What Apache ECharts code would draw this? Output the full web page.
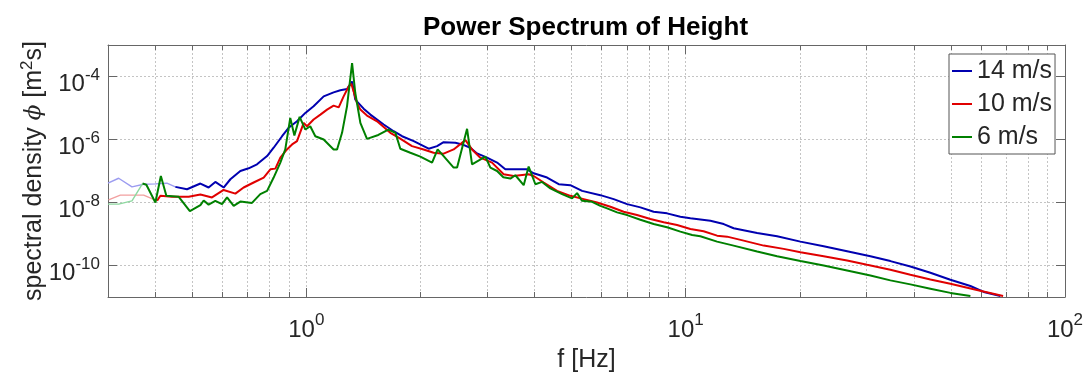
<!DOCTYPE html>
<html><head><meta charset="utf-8">
<script src="https://cdn.jsdelivr.net/npm/echarts@6/dist/echarts.min.js"></script>
<style>html,body{margin:0;padding:0;background:#fff}#c{width:1083px;height:374px}</style>
</head><body><div id="c"></div>
<script>
// ---- data (frequency in Hz, spectral density in m^2 s) ----
const seriesNames = ['14 m/s', '10 m/s', '6 m/s'];

const blueF = [0.300,0.320,0.347,0.3725,0.400,0.429,0.4515,0.4847,0.5257,0.5525,0.5755,0.6053,0.6306,0.6699,0.7046,0.7413,0.788,0.820,0.863,0.898,0.945,0.994,1.045,1.111,1.180,1.229,1.280,1.320,1.346,1.416,1.475,1.599,1.699,1.788,1.919,2.101,2.211,2.301,2.471,2.574,2.706,2.818,2.995,3.183,3.346,3.593,3.818,3.975,4.312,4.627,4.966,5.333,5.958,6.459,7.008,7.596,8.233,8.931,9.683,10.29,11.62,12.60,13.38,15.43,17.42,20.07,23.11,26.64,30.69,34.65,39.12,44.17,49.87,56.31,61.06,67.56];
const blueV = [4.09e-8,5.89e-8,3.13e-8,3.80e-8,3.89e-8,4.09e-8,3.13e-8,2.64e-8,4.00e-8,2.99e-8,4.50e-8,2.99e-8,5.47e-8,1.00e-7,1.22e-7,1.63e-7,2.98e-7,5.48e-7,1.27e-6,2.35e-6,3.79e-6,6.98e-6,1.13e-5,2.34e-5,3.13e-5,3.66e-5,4.00e-5,6.95e-5,1.84e-5,9.55e-6,6.18e-6,2.99e-6,1.83e-6,1.27e-6,8.87e-7,5.10e-7,6.17e-7,8.24e-7,7.89e-7,6.97e-7,5.48e-7,3.62e-7,2.65e-7,1.85e-7,1.13e-7,1.13e-7,1.13e-7,8.47e-8,6.19e-8,3.80e-8,3.54e-8,2.34e-8,1.71e-8,1.28e-8,8.89e-9,7.00e-9,5.08e-9,4.52e-9,3.53e-9,3.14e-9,2.64e-9,2.07e-9,1.52e-9,1.08e-9,8.49e-10,5.73e-10,4.10e-10,2.85e-10,1.98e-10,1.38e-10,9.31e-11,5.89e-11,3.54e-11,2.24e-11,1.45e-11,1.07e-11];

const redF = [0.301,0.3233,0.3725,0.4042,0.4123,0.4424,0.4895,0.5257,0.5640,0.6053,0.6500,0.6834,0.7262,0.7719,0.8038,0.8286,0.854,0.889,0.917,0.945,0.984,1.004,1.045,1.089,1.134,1.180,1.217,1.254,1.293,1.314,1.360,1.388,1.445,1.536,1.665,1.751,1.899,2.038,2.165,2.301,2.445,2.626,2.734,2.875,3.087,3.312,3.520,3.855,3.975,4.224,4.581,4.966,5.385,5.840,6.333,6.863,7.444,8.070,8.750,9.491,10.29,11.15,12.10,12.86,14.22,16.06,18.13,20.07,23.11,26.64,30.08,34.65,39.12,44.17,49.87,57.44,68.68];
const redV = [1.22e-8,1.71e-8,1.71e-8,1.13e-8,1.63e-8,1.51e-8,1.53e-8,1.80e-8,1.45e-8,2.50e-8,1.91e-8,2.99e-8,4.31e-8,6.19e-8,1.13e-7,1.19e-7,2.65e-7,4.84e-7,6.97e-7,8.87e-7,3.38e-6,2.64e-6,4.30e-6,6.18e-6,8.89e-6,1.19e-5,1.05e-5,2.34e-5,4.83e-5,5.88e-5,1.45e-5,8.89e-6,5.74e-6,3.79e-6,1.63e-6,1.14e-6,6.17e-7,4.84e-7,3.81e-7,3.55e-7,4.84e-7,9.53e-7,4.84e-7,2.65e-7,1.85e-7,7.87e-8,6.95e-8,7.87e-8,6.95e-8,4.31e-8,2.34e-8,1.63e-8,1.28e-8,1.00e-8,7.31e-9,5.08e-9,3.99e-9,2.98e-9,2.35e-9,1.93e-9,1.44e-9,1.22e-9,8.87e-10,8.24e-10,6.17e-10,4.28e-10,3.37e-10,2.65e-10,1.98e-10,1.44e-10,1.05e-10,7.33e-11,5.09e-11,3.61e-11,2.65e-11,1.75e-11,1.08e-11];

const greenF = [0.300,0.320,0.347,0.370,0.3786,0.400,0.4135,0.4275,0.4609,0.4931,0.5257,0.5363,0.5525,0.5755,0.5994,0.6180,0.6433,0.6699,0.7190,0.7561,0.788,0.820,0.854,0.880,0.907,0.930,0.960,0.994,1.024,1.056,1.111,1.180,1.205,1.242,1.280,1.320,1.346,1.388,1.445,1.548,1.645,1.717,1.769,1.880,1.998,2.145,2.219,2.301,2.445,2.497,2.653,2.734,2.964,3.056,3.183,3.306,3.450,3.556,3.741,3.855,4.016,4.182,4.398,4.722,5.018,5.173,5.333,5.666,5.958,6.206,6.595,7.008,7.596,8.233,8.931,9.683,10.40,10.93,12.10,13.38,15.43,17.42,20.07,23.11,26.64,30.69,34.65,39.12,44.17,49.87,56.31];
const greenV = [8.89e-9,8.89e-9,1.13e-8,4.00e-8,3.67e-8,1.00e-8,6.95e-8,1.63e-8,1.51e-8,5.35e-9,8.26e-9,1.16e-8,8.57e-9,1.13e-8,8.89e-9,1.45e-8,7.85e-9,1.07e-8,9.71e-9,1.84e-8,2.34e-8,6.19e-8,1.85e-7,4.84e-7,4.85e-6,1.34e-6,5.22e-6,2.07e-6,2.64e-6,1.27e-6,1.00e-6,4.84e-7,4.84e-7,1.63e-6,1.13e-5,2.65e-4,2.99e-5,3.38e-6,1.05e-6,1.39e-6,2.07e-6,1.63e-6,5.10e-7,3.81e-7,2.85e-7,1.85e-7,4.84e-7,2.98e-7,1.28e-7,1.28e-7,2.18e-6,1.63e-7,2.85e-7,1.28e-7,1.00e-7,6.32e-8,5.75e-8,7.33e-8,3.54e-8,1.38e-7,3.80e-8,4.50e-8,2.79e-8,1.84e-8,1.35e-8,1.98e-8,1.13e-8,1.05e-8,7.85e-9,6.50e-9,4.86e-9,3.99e-9,2.84e-9,2.07e-9,1.63e-9,1.19e-9,9.33e-10,8.49e-10,5.73e-10,4.28e-10,2.77e-10,1.98e-10,1.38e-10,1.00e-10,6.97e-11,4.84e-11,3.37e-11,2.52e-11,1.84e-11,1.35e-11,1.07e-11];

const xLabelTicks = [1, 10, 100];
const xMinorTicks = [0.4,0.5,0.6,0.7,0.8,0.9,1,2,3,4,5,6,7,8,9,10,20,30,40,50,60,70,80,90];
const yTicks = [1e-10, 1e-8, 1e-6, 1e-4];

// ---- styling ----
const colors = ['#0000b0', '#e00000', '#008000'];
const lightColors = ['#9c9cf0', '#f2a0a0', '#8ed8a0'];
const lightUntil = [0.44, 0.40, 0.37];   // frequency below which the trace is drawn faded
const FONT = 'Liberation Sans';
const AX = '#666666';
const GRID = '#c4c4c4';

function pairs(f, v) { return f.map((x, i) => [x, v[i]]); }
const dataSets = [pairs(blueF, blueV), pairs(redF, redV), pairs(greenF, greenV)];

function powLabel(v) {
  const e = Math.round(Math.log10(v));
  return '{b|10}{s|' + e + '}';
}
const richPow = {
  b: { fontSize: 24, lineHeight: 30, verticalAlign: 'bottom', fontFamily: FONT, color: '#262626' },
  s: { fontSize: 17, lineHeight: 17, verticalAlign: 'top', fontFamily: FONT, color: '#262626' }
};

const xBase = { type: 'log', logBase: 10, min: 0.3, max: 100, gridIndex: 0 };
const yBase = { type: 'log', logBase: 10, min: 1e-11, max: 1e-3, gridIndex: 0 };

const lineSeries = [];
[0, 1, 2].forEach(i => {
  const d = dataSets[i];
  let k = d.findIndex(p => p[0] >= lightUntil[i]);
  if (k < 1) k = 1;
  lineSeries.push({
    name: seriesNames[i] + ' faded', type: 'line', data: d.slice(0, k + 1),
    showSymbol: false, symbol: 'none', silent: true,
    lineStyle: { width: 1.4, color: lightColors[i] }, z: 3 + i
  });
  lineSeries.push({
    name: seriesNames[i], type: 'line', data: d.slice(k),
    showSymbol: false, symbol: 'none',
    lineStyle: { width: 2, color: colors[i] }, itemStyle: { color: colors[i] }, z: 3 + i
  });
});

const option = {
  backgroundColor: '#ffffff',
  animation: false,
  title: {
    text: 'Power Spectrum of Height',
    left: 423, top: 13, padding: 0,
    textStyle: { fontFamily: FONT, fontSize: 26, fontWeight: 'bold', color: '#000', lineHeight: 30 }
  },
  grid: { left: 108, top: 45, right: 18, bottom: 77, show: false, outerBoundsMode: 'none', containLabel: false },
  legend: {
    data: seriesNames,
    orient: 'vertical',
    left: 949, top: 54,
    padding: [4, 3, 4, 3],
    itemGap: 7, itemWidth: 20, itemHeight: 2,
    icon: 'rect',
    backgroundColor: '#fff', borderColor: '#555', borderWidth: 1, borderRadius: 0,
    textStyle: { fontFamily: FONT, fontSize: 25, color: '#262626', lineHeight: 26 }
  },
  xAxis: [
    Object.assign({}, xBase, {
      position: 'bottom',
      name: 'f [Hz]', nameLocation: 'middle', nameGap: 48, nameMoveOverlap: false,
      nameTextStyle: { fontFamily: FONT, fontSize: 25, color: '#262626', lineHeight: 30 },
      axisLine: { show: true, lineStyle: { color: AX, width: 1 } },
      axisTick: { show: true, inside: true, length: 9, customValues: xLabelTicks, lineStyle: { color: AX } },
      axisLabel: { show: true, customValues: xLabelTicks, margin: 15, formatter: powLabel, rich: richPow },
      splitLine: { show: false }
    }),
    Object.assign({}, xBase, {
      position: 'bottom',
      axisLine: { show: false },
      axisTick: { show: true, inside: true, length: 5, customValues: xMinorTicks, lineStyle: { color: AX } },
      axisLabel: { show: false },
      splitLine: { show: true, lineStyle: { color: GRID, type: [2, 2], width: 1 } }
    }),
    Object.assign({}, xBase, {
      position: 'top',
      axisLine: { show: true, lineStyle: { color: AX, width: 1 } },
      axisTick: { show: true, inside: true, length: 9, customValues: xLabelTicks, lineStyle: { color: AX } },
      axisLabel: { show: false },
      splitLine: { show: false }
    }),
    Object.assign({}, xBase, {
      position: 'top',
      axisLine: { show: false },
      axisTick: { show: true, inside: true, length: 5, customValues: xMinorTicks, lineStyle: { color: AX } },
      axisLabel: { show: false },
      splitLine: { show: false }
    })
  ],
  yAxis: [
    Object.assign({}, yBase, {
      position: 'left',
      name: 'spectral density {phi|\u03D5} [m{sup|2}s]',
      nameLocation: 'middle', nameGap: 59, nameRotate: 90, nameMoveOverlap: false,
      nameTextStyle: {
        fontFamily: FONT, fontSize: 25, color: '#262626', lineHeight: 30,
        rich: {
          phi: { fontFamily: 'DejaVu Serif', fontStyle: 'italic', fontSize: 23, lineHeight: 30, color: '#262626' },
          sup: { fontFamily: FONT, fontSize: 17, lineHeight: 17, verticalAlign: 'top', color: '#262626' }
        }
      },
      axisLine: { show: true, lineStyle: { color: AX, width: 1 } },
      axisTick: { show: true, inside: true, length: 9, customValues: yTicks, lineStyle: { color: AX } },
      axisLabel: { show: true, customValues: yTicks, margin: 8, padding: [10, 0, 0, 0], formatter: powLabel, rich: richPow },
      splitLine: { show: true, lineStyle: { color: GRID, type: [2, 2], width: 1 } }
    }),
    Object.assign({}, yBase, {
      position: 'right',
      axisLine: { show: true, lineStyle: { color: AX, width: 1 } },
      axisTick: { show: true, inside: true, length: 9, customValues: yTicks, lineStyle: { color: AX } },
      axisLabel: { show: false },
      splitLine: { show: false }
    })
  ],
  series: lineSeries
};

const chart = echarts.init(document.getElementById('c'), null, { renderer: 'canvas' });
chart.setOption(option);
</script>
</body></html>
